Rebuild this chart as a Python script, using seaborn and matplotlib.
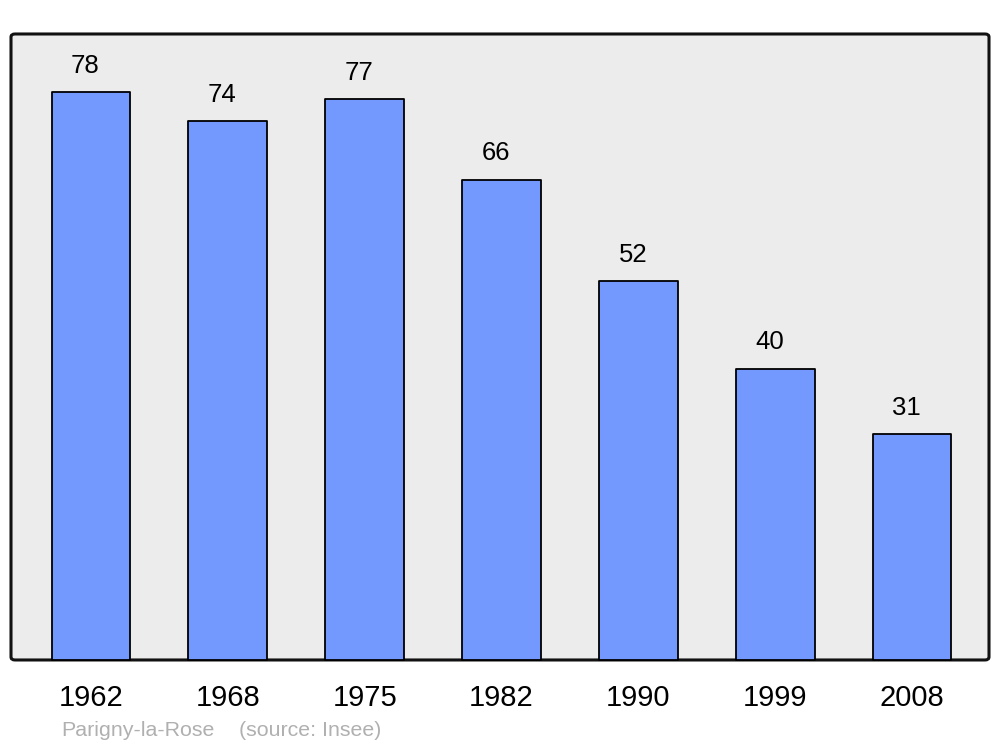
import matplotlib
matplotlib.use('Agg')
import matplotlib.pyplot as plt
import seaborn as sns
import pandas as pd
from matplotlib.patches import FancyBboxPatch

years = ['1962', '1968', '1975', '1982', '1990', '1999', '2008']
population = [78, 74, 77, 66, 52, 40, 31]

sns.set_theme(style='white')
plt.rcParams['font.family'] = ['Liberation Sans', 'DejaVu Sans']

df = pd.DataFrame({'annee': years, 'pop': population})

fig = plt.figure(figsize=(10, 7.47), dpi=100)
ax = fig.add_axes([0.011, 0.1165, 0.978, 0.838])
ax.set_facecolor('none')
ax.set_zorder(2)

# fond gris arrondi
bg = FancyBboxPatch((0.011, 0.1165), 0.978, 0.838,
                    boxstyle='round,pad=0,rounding_size=0.004',
                    transform=fig.transFigure, facecolor='#ececec',
                    edgecolor='#111111', linewidth=2.2, zorder=-1)
fig.patches.append(bg)

sns.barplot(data=df, x='annee', y='pop', ax=ax, width=0.575,
            color='#7399ff', saturation=1, edgecolor='black', linewidth=1.3)
for p in ax.patches:
    p.set_joinstyle('round')
    p.set_clip_on(False)

for i, v in enumerate(population):
    ax.annotate(str(v), (i, v), xytext=(-4, 10.5), textcoords='offset points',
                ha='center', va='bottom', fontsize=18.5, color='black')

ax.set_ylim(0, 86)
ax.set_xlim(-0.584, 6.562)
ax.set_xlabel('')
ax.set_ylabel('')
ax.set_yticks([])
ax.tick_params(axis='x', length=0, pad=17, labelsize=21, colors='black')
for s in ax.spines.values():
    s.set_visible(False)

fig.text(0.061, 0.0095, 'Parigny-la-Rose', fontsize=15.4,
         color='#b0b0b0', ha='left', va='bottom')
fig.text(0.239, 0.0095, '(source: Insee)', fontsize=15.4,
         color='#b0b0b0', ha='left', va='bottom')

fig.savefig('out.png', dpi=100)
